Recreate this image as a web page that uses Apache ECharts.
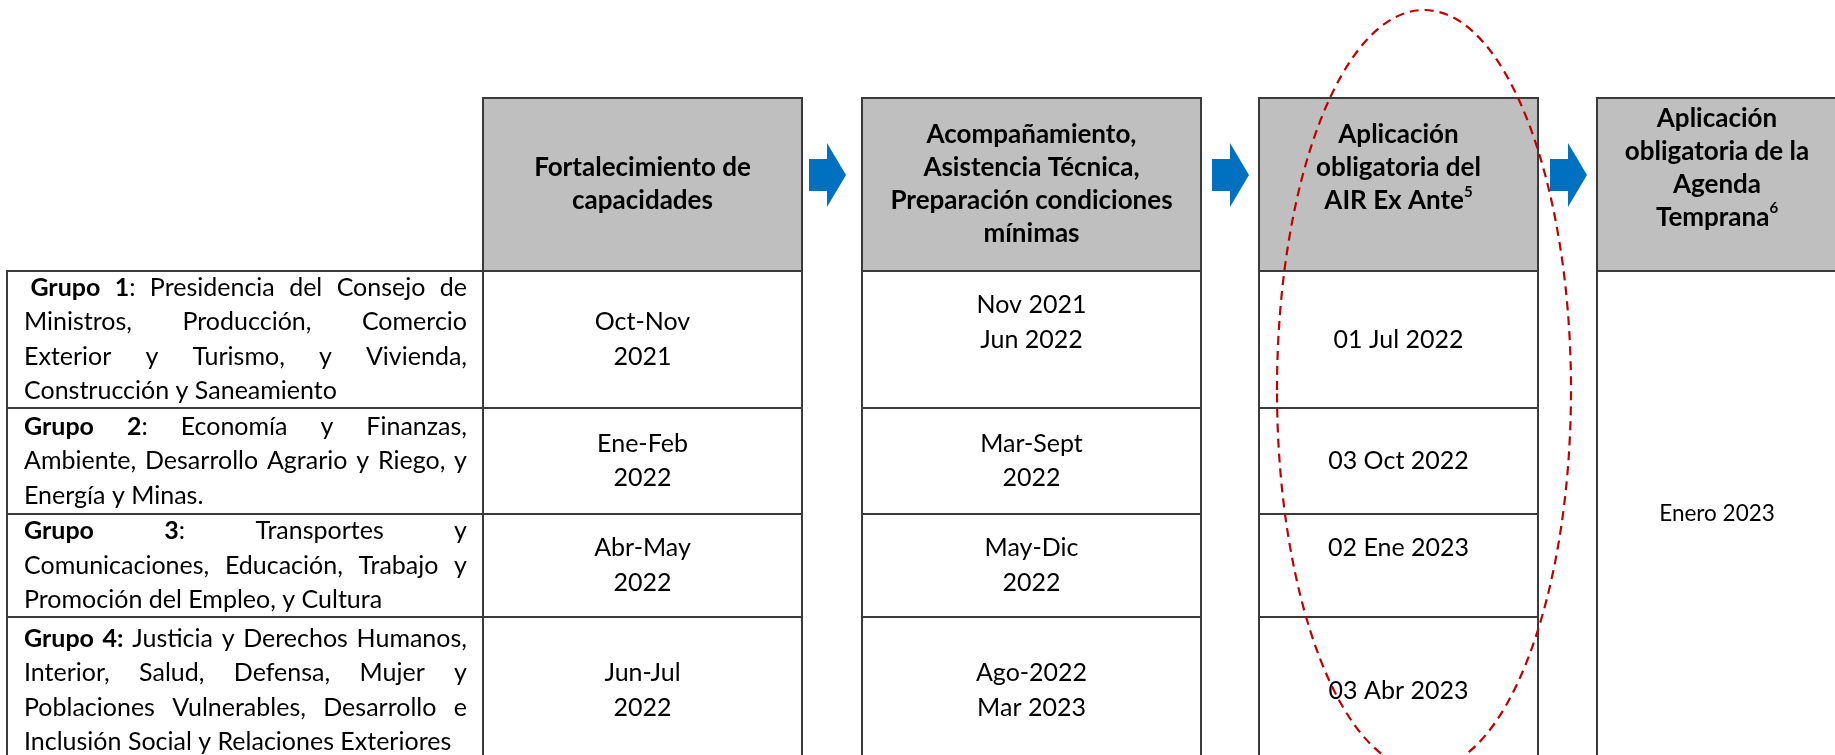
<!DOCTYPE html>
<html lang="es">
<head>
<meta charset="utf-8">
<title>Cronograma de implementación AIR Ex Ante</title>
<script src="https://cdn.jsdelivr.net/npm/echarts@6.0.0/dist/echarts.min.js"></script>
<style>
  html, body { margin: 0; padding: 0; background: #fff; }
  #chart { width: 1835px; height: 755px; }
</style>
</head>
<body>
<div id="chart"></div>
<script>
// ---- content of the table ----
// a trailing empty line keeps the vertical placement of the original Word cells
const headers = [
  'Fortalecimiento de\ncapacidades',
  'Acompañamiento,\nAsistencia Técnica,\nPreparación condiciones\nmínimas',
  'Aplicación\nobligatoria del\nAIR Ex Ante{sup|5}\n ',
  'Aplicación\nobligatoria de la\nAgenda\nTemprana{sup|6}\n ',
]
// **...** marks bold runs, lines are justified like the source document
const groups = [
  [' **Grupo 1**: Presidencia del Consejo de', 'Ministros, Producción, Comercio', 'Exterior y Turismo, y Vivienda,', 'Construcción y Saneamiento'],
  ['**Grupo 2**: Economía y Finanzas,', 'Ambiente, Desarrollo Agrario y Riego, y', 'Energía y Minas.'],
  ['**Grupo 3**: Transportes y', 'Comunicaciones, Educación, Trabajo y', 'Promoción del Empleo, y Cultura'],
  ['**Grupo 4:** Justicia y Derechos Humanos,', 'Interior, Salud, Defensa, Mujer y', 'Poblaciones Vulnerables, Desarrollo e', 'Inclusión Social y Relaciones Exteriores'],
]
const fortalecimiento = ['Oct-Nov\n2021', 'Ene-Feb\n2022', 'Abr-May\n2022', 'Jun-Jul\n2022']
const acompanamiento = ['Nov 2021\nJun 2022\n', 'Mar-Sept\n2022', 'May-Dic\n2022', 'Ago-2022\nMar 2023']
const airExAnte = ['01 Jul 2022', '03 Oct 2022', '02 Ene 2023\n', '03 Abr 2023']
const agendaTemprana = 'Enero 2023'

// ---- layout (page units, mapped through hidden value axes) ----
const COLS = [[7, 483], [483, 802], [862, 1201], [1259, 1538], [1597, 1837]]
const HEADER_TOP = 98
const ROWS = [271, 408, 514, 617, 764]
const ARROW_X = [809, 1212, 1550]
const ELLIPSE = { cx: 1424, cy: 390, rx: 147, ry: 380 }

const FONT = 'Lato'
const BODY_SIZE = 25
const HEAD_SIZE = 26
const BODY_LH = 34.5
const HEAD_LH = 33
const PAD_L = 17
const PAD_R = 16
const TEXT_COLOR = '#000'
const BORDER = '#3a3a3a'

const measureCtx = document.createElement('canvas').getContext('2d')
const textWidth = (s, bold, size) => {
  measureCtx.font = `${bold ? 'bold' : 'normal'} ${size}px ${FONT}`
  return measureCtx.measureText(s).width
}

// split a line into words made of bold / normal runs
function parseLine(line) {
  const words = []
  let word = []
  let indent = 0
  let started = false
  line.split('**').forEach((seg, i) => {
    const bold = i % 2 === 1
    for (const ch of seg) {
      if (ch === ' ') {
        if (!started) indent++
        if (word.length) { words.push(word); word = [] }
      } else {
        started = true
        const last = word[word.length - 1]
        if (last && last.bold === bold) last.text += ch
        else word.push({ text: ch, bold })
      }
    }
  })
  if (word.length) words.push(word)
  return { indent, words }
}

function groupText(api, r, x0, x1, yc) {
  const lines = groups[r].map(parseLine)
  const left = x0 + PAD_L
  const right = x1 - PAD_R
  const space = textWidth(' ', false, BODY_SIZE)
  const children = []
  lines.forEach((ln, i) => {
    const y = yc + (i - (lines.length - 1) / 2) * BODY_LH
    const widths = ln.words.map(w => w.reduce((s, run) => s + textWidth(run.text, run.bold, BODY_SIZE), 0))
    const total = widths.reduce((a, b) => a + b, 0)
    const start = left + ln.indent * space
    let gap = ln.words.length > 1 ? (right - start - total) / (ln.words.length - 1) : 0
    if (i === lines.length - 1) gap = Math.min(space, gap)
    let x = start
    ln.words.forEach(w => {
      w.forEach(run => {
        const p = api.coord([x, y])
        children.push({
          type: 'text',
          x: p[0],
          y: p[1],
          style: {
            text: run.text,
            fontFamily: FONT,
            fontSize: BODY_SIZE,
            fontWeight: run.bold ? 'bold' : 'normal',
            fill: TEXT_COLOR,
            align: 'left',
            verticalAlign: 'middle',
          },
        })
        x += textWidth(run.text, run.bold, BODY_SIZE)
      })
      x += gap
    })
  })
  return children
}

function cellContent(c, r) {
  if (r < 0) return headers[c - 1]
  if (c === 1) return fortalecimiento[r]
  if (c === 2) return acompanamiento[r]
  if (c === 3) return airExAnte[r]
  return agendaTemprana
}

function renderCell(params, api) {
  const c = api.value(0)
  const r = api.value(1)
  const [x0, x1] = COLS[c]
  let y0, y1
  if (r < 0) { y0 = HEADER_TOP; y1 = ROWS[0] }
  else if (c === 4) { y0 = ROWS[0]; y1 = ROWS[4] }
  else { y0 = ROWS[r]; y1 = ROWS[r + 1] }
  const p0 = api.coord([x0, y0])
  const p1 = api.coord([x1, y1])
  const children = [{
    type: 'rect',
    shape: { x: p0[0], y: p0[1], width: p1[0] - p0[0], height: p1[1] - p0[1] },
    style: { fill: r < 0 ? '#bfbfbf' : '#ffffff', stroke: BORDER, lineWidth: 2 },
  }]
  const mid = api.coord([(x0 + x1) / 2, (y0 + y1) / 2])
  if (c === 0) {
    children.push(...groupText(api, r, x0, x1, (y0 + y1) / 2))
  } else if (r < 0) {
    children.push({
      type: 'text', x: mid[0], y: mid[1],
      style: {
        text: cellContent(c, r),
        fontFamily: FONT, fontSize: HEAD_SIZE, fontWeight: 'bold',
        lineHeight: HEAD_LH, fill: '#000', align: 'center', verticalAlign: 'middle',
        rich: { sup: { fontFamily: FONT, fontSize: 15, fontWeight: 'bold', fill: '#000', verticalAlign: 'top', lineHeight: 20 } },
      },
    })
  } else {
    const small = c === 4
    children.push({
      type: 'text', x: mid[0], y: small ? mid[1] - 4 : mid[1],
      style: {
        text: cellContent(c, r),
        fontFamily: FONT, fontSize: small ? 22.5 : BODY_SIZE,
        lineHeight: BODY_LH, fill: TEXT_COLOR, align: 'center', verticalAlign: 'middle',
      },
    })
  }
  return { type: 'group', children }
}

function renderArrow(params, api) {
  const ax = ARROW_X[api.value(0)]
  const pts = [
    [ax, 159], [ax + 18, 159], [ax + 18, 143], [ax + 37, 175],
    [ax + 18, 207], [ax + 18, 191], [ax, 191],
  ].map(p => api.coord(p))
  return { type: 'polygon', shape: { points: pts }, style: { fill: '#0070c0' } }
}

function renderEllipse(params, api) {
  const ctr = api.coord([ELLIPSE.cx, ELLIPSE.cy])
  const sz = api.size([ELLIPSE.rx, ELLIPSE.ry])
  return {
    type: 'ellipse',
    shape: { cx: ctr[0], cy: ctr[1], rx: sz[0], ry: sz[1] },
    style: { fill: 'none', stroke: '#c00000', lineWidth: 2.2, lineDash: [9, 6] },
  }
}

const cells = []
for (let c = 1; c <= 4; c++) cells.push([c, -1])
for (let r = 0; r < 4; r++) for (let c = 0; c <= 3; c++) cells.push([c, r])
cells.push([4, 0])

const chart = echarts.init(document.getElementById('chart'), null, { renderer: 'canvas' })
chart.setOption({
  animation: false,
  grid: { left: 0, right: 0, top: 0, bottom: 0 },
  xAxis: { type: 'value', min: 0, max: 1835, show: false },
  yAxis: { type: 'value', min: 0, max: 755, inverse: true, show: false },
  series: [
    { type: 'custom', silent: true, data: cells, renderItem: renderCell, z: 1 },
    { type: 'custom', silent: true, data: [[0, 0], [1, 0], [2, 0]], renderItem: renderArrow, z: 2 },
    { type: 'custom', silent: true, data: [[0, 0]], renderItem: renderEllipse, z: 3 },
  ],
})
window.addEventListener('resize', () => chart.resize())
</script>
</body>
</html>
